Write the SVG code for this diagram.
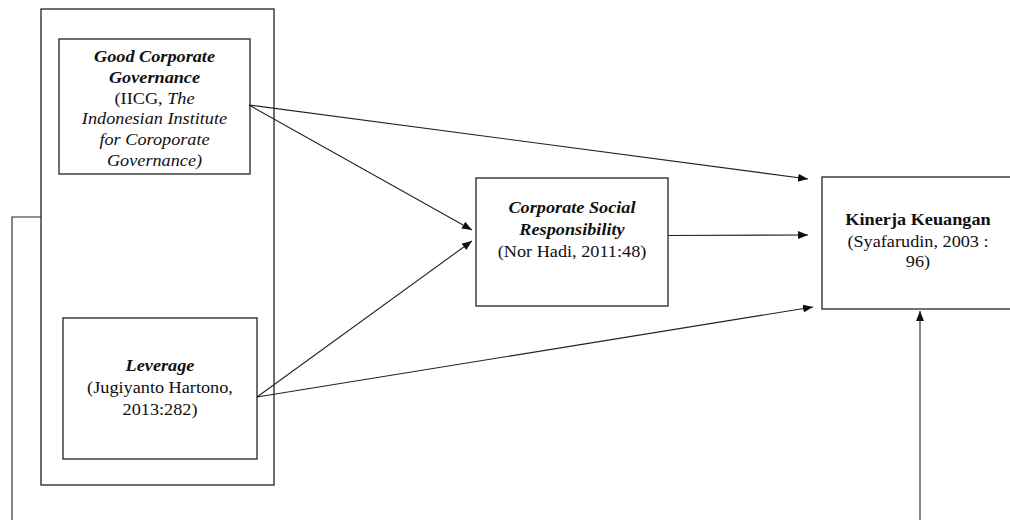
<svg xmlns="http://www.w3.org/2000/svg" width="1010" height="520" viewBox="0 0 1010 520" font-family="'Liberation Serif', 'Times New Roman', 'DejaVu Serif', serif">
<style>
.box{fill:#fff;stroke:#222;stroke-width:1.3}
.ln{fill:none;stroke:#222;stroke-width:1.1}
text{font-family:'Liberation Serif','Times New Roman','DejaVu Serif',serif;font-size:16px;fill:#111;text-anchor:middle}
.bi{font-weight:bold;font-style:italic}
.b{font-weight:bold}
.i{font-style:italic}
</style>
<defs>
<marker id="ah" markerUnits="userSpaceOnUse" markerWidth="11" markerHeight="9" refX="10" refY="4" orient="auto">
<path d="M0,0 L10,4 L0,8 z" fill="#111"/>
</marker>
</defs>
<g id="outer-group">
<rect class="box" x="41" y="9" width="233" height="476"/>
</g>
<g id="gcg">
<rect class="box" x="59" y="39" width="191" height="135"/>
<g transform="translate(154.5,0) scale(1.14,1)">
<text x="0" y="62" class="bi">Good Corporate</text>
<text x="0" y="83" class="bi">Governance</text>
<text x="0" y="104">(IICG, <tspan class="i">The</tspan></text>
<text x="0" y="124.5" class="i">Indonesian Institute</text>
<text x="0" y="145.5" class="i">for Coroporate</text>
<text x="0" y="166" class="i">Governance)</text>
</g>
</g>
<g id="leverage">
<rect class="box" x="63" y="318" width="194" height="141"/>
<g transform="translate(160,0) scale(1.14,1)">
<text x="0" y="371.5" class="bi">Leverage</text>
<text x="0" y="393">(Jugiyanto Hartono,</text>
<text x="0" y="415">2013:282)</text>
</g>
</g>
<g id="csr">
<rect class="box" x="476" y="178" width="192" height="128"/>
<g transform="translate(572,0) scale(1.14,1)">
<text x="0" y="213" class="bi">Corporate Social</text>
<text x="0" y="235" class="bi">Responsibility</text>
<text x="0" y="257.5">(Nor Hadi, 2011:48)</text>
</g>
</g>
<g id="kinerja">
<rect class="box" x="822" y="177" width="200" height="132"/>
<g transform="translate(918,0) scale(1.14,1)">
<text x="0" y="225" class="b">Kinerja Keuangan</text>
<text x="0" y="247">(Syafarudin, 2003 :</text>
<text x="0" y="267">96)</text>
</g>
</g>
<g id="connectors">
<line class="ln" x1="249" y1="105" x2="808" y2="179" marker-end="url(#ah)"/>
<line class="ln" x1="249" y1="105" x2="472" y2="230" marker-end="url(#ah)"/>
<line class="ln" x1="257" y1="397" x2="472" y2="241" marker-end="url(#ah)"/>
<line class="ln" x1="257" y1="397" x2="813" y2="307" marker-end="url(#ah)"/>
<line class="ln" x1="668" y1="235.5" x2="808" y2="235" marker-end="url(#ah)"/>
<path class="ln" d="M41,217 H12 V522"/>
<path class="ln" d="M920,522 V311" marker-end="url(#ah)"/>
</g>
</svg>
